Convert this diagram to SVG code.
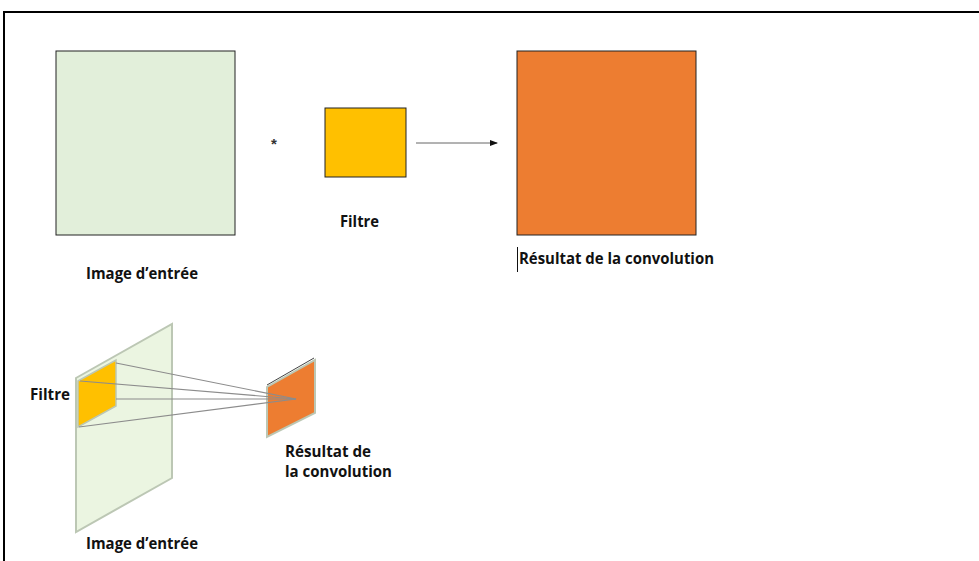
<svg xmlns="http://www.w3.org/2000/svg" width="979" height="561" viewBox="0 0 979 561">
<defs>
<style>
.lbl{font-family:"Open Sans","Liberation Sans",Arial,sans-serif;font-weight:bold;font-size:16px;fill:#111}
.conn{stroke:#8c8c8c;stroke-width:1.2;fill:none}
</style>
<marker id="ah" markerWidth="8" markerHeight="8" refX="7" refY="4" orient="auto" markerUnits="userSpaceOnUse">
<path d="M0,1 L8,4 L0,7 Z" fill="#111"/>
</marker>
</defs>
<rect width="979" height="561" fill="#fff"/>
<path d="M4,561 V12 H979" stroke="#000" stroke-width="2" fill="none"/>

<g id="image-entree">
<rect x="56" y="51" width="179" height="184" fill="#e2efda" stroke="#222" stroke-width="1"/>
<text class="lbl" x="86" y="279" textLength="112" lengthAdjust="spacingAndGlyphs">Image d’entrée</text>
</g>
<g id="asterisk"><text x="271" y="149" font-family="Liberation Sans,Arial,sans-serif" font-size="15" font-weight="bold" fill="#333">*</text></g>
<g id="filtre">
<rect x="325" y="108" width="81" height="69" fill="#ffc000" stroke="#222" stroke-width="1"/>
<text class="lbl" x="340" y="227" textLength="39" lengthAdjust="spacingAndGlyphs">Filtre</text>
</g>
<g id="resultat">
<rect x="517" y="51" width="179" height="184" fill="#ed7d31" stroke="#222" stroke-width="1"/>
<line x1="517.5" y1="247" x2="517.5" y2="272" stroke="#111" stroke-width="1"/>
<text class="lbl" x="519" y="264" textLength="195" lengthAdjust="spacingAndGlyphs">Résultat de la convolution</text>
</g>

<g id="image-3d">
<polygon points="76,378 172,324 172,478 76,532" fill="#ebf5e1" stroke="#bcc7b4" stroke-width="2"/>
<text class="lbl" x="86" y="549" textLength="112" lengthAdjust="spacingAndGlyphs">Image d’entrée</text>
</g>
<g id="filtre-3d">
<polygon points="78,381 116,360 116,406 78,427" fill="#ffc000" stroke="#bcc7b4" stroke-width="1.5"/>
<text class="lbl" x="30" y="400" textLength="40" lengthAdjust="spacingAndGlyphs">Filtre</text>
</g>
<g id="resultat-3d">
<polygon points="267,387 315,360 315,413 267,437" fill="#ed7d31" stroke="#bcc7b4" stroke-width="2"/>
<line x1="267" y1="385" x2="314" y2="358" stroke="#444" stroke-width="1"/>
<text class="lbl" x="285" y="457" textLength="86" lengthAdjust="spacingAndGlyphs">Résultat de</text>
<text class="lbl" x="285" y="477" textLength="107" lengthAdjust="spacingAndGlyphs">la convolution</text>
</g>

<g id="connectors">
<line x1="416" y1="143" x2="497" y2="143" stroke="#666" stroke-width="1" marker-end="url(#ah)"/>
<line class="conn" x1="116" y1="363" x2="296" y2="399"/>
<line class="conn" x1="80" y1="381" x2="296" y2="399"/>
<line class="conn" x1="116" y1="399" x2="296" y2="399"/>
<line class="conn" x1="79" y1="427" x2="296" y2="399"/>
</g>
</svg>
